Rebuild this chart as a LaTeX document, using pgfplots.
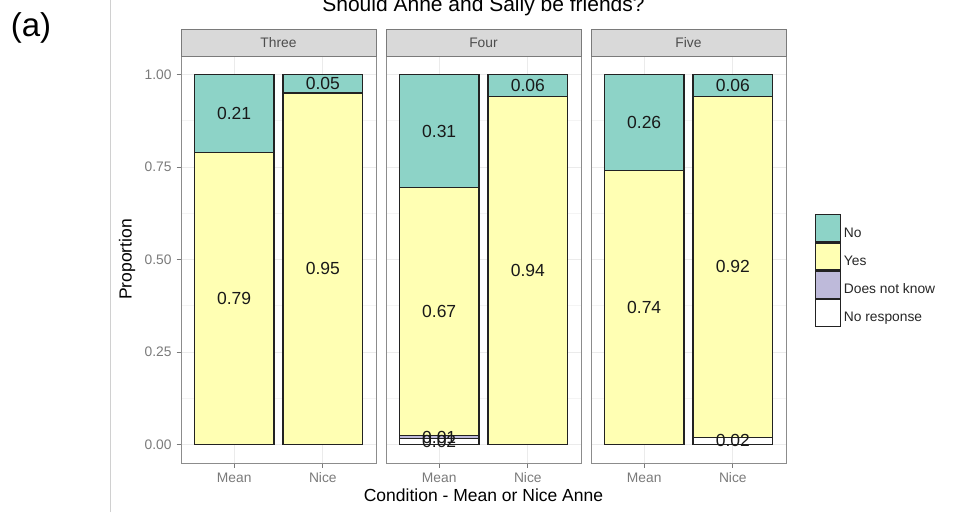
\documentclass[border=0pt]{standalone}
\usepackage{fontspec}
\setmainfont{Liberation Sans}
\usepackage{pgfplots}
\usepackage{pgfplotstable}
\pgfplotsset{compat=1.18}

\definecolor{colNo}{HTML}{8DD3C7}
\definecolor{colYes}{HTML}{FFFFB3}
\definecolor{colDNK}{HTML}{BEBADA}
\definecolor{colNR}{HTML}{FFFFFF}
\definecolor{barline}{HTML}{222222}
\definecolor{frame}{HTML}{8C8C8C}
\definecolor{stripfill}{HTML}{D9D9D9}
\definecolor{stripline}{HTML}{7A7A7A}
\definecolor{striptext}{HTML}{4D4D4D}
\definecolor{gridmaj}{HTML}{EBEBEB}
\definecolor{gridmin}{HTML}{F4F4F4}
\definecolor{tickcol}{HTML}{7A7A7A}
\definecolor{sepline}{HTML}{D0D0D0}

% Proportions per condition (x = 1: Mean, x = 2: Nice), stacked bottom to top
\pgfplotstableread{
x nr    dnk   yes  no
1 0     0     0.79 0.21
2 0     0     0.95 0.05
}\three
\pgfplotstableread{
x nr    dnk   yes  no
1 0.016 0.008 0.67 0.306
2 0     0     0.94 0.06
}\four
\pgfplotstableread{
x nr    dnk   yes  no
1 0     0     0.74 0.26
2 0.02  0     0.92 0.06
}\five

% Value labels, placed at the middle of each segment
\pgfplotstableread{
x y     lab
1 0.395 0.79
1 0.895 0.21
2 0.475 0.95
2 0.975 0.05
}\threelab
\pgfplotstableread{
x y     lab
1 0.008 0.02
1 0.020 0.01
1 0.359 0.67
1 0.847 0.31
2 0.470 0.94
2 0.970 0.06
}\fourlab
\pgfplotstableread{
x y     lab
1 0.370 0.74
1 0.870 0.26
2 0.010 0.02
2 0.480 0.92
2 0.970 0.06
}\fivelab

\tikzset{
  strip/.style={fill=stripfill, draw=stripline, line width=0.7pt},
  striptxt/.style={font=\fontsize{13.8}{16}\selectfont, text=striptext, anchor=center},
}

\pgfplotsset{
  facet/.style={
    scale only axis, width=195pt, height=407pt,
    anchor=south west,
    xmin=0.4, xmax=2.6, ymin=-0.05, ymax=1.05,
    clip=false,
    ybar stacked, bar width=0.9,
    axis line style={draw=frame, line width=0.7pt},
    xtick={1,2}, xticklabels={Mean,Nice},
    ytick={0,0.25,0.5,0.75,1},
    minor ytick={0.125,0.375,0.625,0.875},
    xmajorgrids, ymajorgrids, yminorgrids,
    major grid style={draw=gridmaj, line width=0.9pt},
    minor grid style={draw=gridmin, line width=0.6pt},
    tick align=outside, tick pos=left,
    major tick length=4.5pt, minor tick length=0pt,
    tick style={draw=tickcol, line width=0.7pt},
    ticklabel style={font=\fontsize{13.8}{16}\selectfont, text=tickcol},
    /pgf/number format/assume math mode=true,
    yticklabel style={/pgf/number format/.cd, fixed, fixed zerofill, precision=2, /tikz/.cd, xshift=-1.5pt},
    xticklabel style={anchor=base, yshift=-15pt},
  },
  seg/.style={draw=barline, line width=1.2pt, fill=#1},
  labellayer/.style={
    scale only axis, width=195pt, height=407pt,
    anchor=south west,
    xmin=0.4, xmax=2.6, ymin=-0.05, ymax=1.05,
    hide axis, clip=false,
  },
  vallab/.style={
    draw=none, mark=none,
    nodes near coords, point meta=explicit symbolic,
    nodes near coords align={center},
    every node near coord/.append style={font=\fontsize{17.5}{20}\selectfont, text=black!90, inner sep=0pt},
  },
}

% facet strip drawn above the panel
\newcommand{\facetstrip}[1]{%
  \draw[strip] (rel axis cs:0,1) rectangle ([yshift=27pt]rel axis cs:1,1);
  \path ([yshift=13.5pt]rel axis cs:0.5,1) node[striptxt] {#1};
}

\begin{document}
\begin{tikzpicture}
\path[use as bounding box] (0pt,0pt) rectangle (953pt,512pt);

\node[font=\fontsize{33}{36}\selectfont, anchor=center] at (31pt,484pt) {(a)};
\draw[sepline, line width=0.8pt] (110pt,0pt) -- (110pt,512pt);

% Panel: Three
\begin{axis}[facet, at={(181pt,49pt)},
  every axis y label/.style={at={(axis description cs:-0.277,0.5)}, rotate=90, anchor=center},
  ylabel={Proportion}, ylabel style={font=\fontsize{17.5}{20}\selectfont}]
  \addplot[seg=colNR]  table[x=x, y=nr]  {\three};
  \addplot[seg=colDNK] table[x=x, y=dnk] {\three};
  \addplot[seg=colYes] table[x=x, y=yes] {\three};
  \addplot[seg=colNo]  table[x=x, y=no]  {\three};
\end{axis}
\begin{axis}[labellayer, at={(181pt,49pt)}]
  \addplot[vallab] table[x=x, y=y, meta=lab] {\threelab};
  \facetstrip{Three}
\end{axis}

% Panel: Four
\begin{axis}[facet, at={(386pt,49pt)},
  yticklabels={}, ytick style={draw=none},
  title={Should Anne and Sally be friends?},
  title style={at={(axis description cs:0.5,1.0958)}, anchor=base, font=\fontsize{21}{24}\selectfont},
  xlabel={Condition - Mean or Nice Anne},
  every axis x label/.style={at={(axis description cs:0.5,-0.0934)}, anchor=base},
  xlabel style={font=\fontsize{17.5}{20}\selectfont}]
  \addplot[seg=colNR]  table[x=x, y=nr]  {\four};
  \addplot[seg=colDNK] table[x=x, y=dnk] {\four};
  \addplot[seg=colYes] table[x=x, y=yes] {\four};
  \addplot[seg=colNo]  table[x=x, y=no]  {\four};
\end{axis}
\begin{axis}[labellayer, at={(386pt,49pt)}]
  \addplot[vallab] table[x=x, y=y, meta=lab] {\fourlab};
  \facetstrip{Four}
\end{axis}

% Panel: Five, carrying the legend
\begin{axis}[facet, at={(591pt,49pt)},
  yticklabels={}, ytick style={draw=none},
  reverse legend,
  legend cell align=left,
  legend image code/.code={\draw[#1, line width=1.2pt] (0pt,-8.5pt) rectangle (25pt,18.5pt);},
  legend style={at={(axis description cs:1.1487,0.6118)}, anchor=north west,
    draw=none, fill=none, inner sep=0pt, row sep=0pt, column sep=0pt,
    font=\fontsize{13.8}{16}\selectfont, text=black!85,
    nodes={inner sep=2.5pt}}]
  \addplot[seg=colNR]  table[x=x, y=nr]  {\five};
  \addlegendentry{No response}
  \addplot[seg=colDNK] table[x=x, y=dnk] {\five};
  \addlegendentry{Does not know}
  \addplot[seg=colYes] table[x=x, y=yes] {\five};
  \addlegendentry{Yes}
  \addplot[seg=colNo]  table[x=x, y=no]  {\five};
  \addlegendentry{No}
\end{axis}
\begin{axis}[labellayer, at={(591pt,49pt)}]
  \addplot[vallab] table[x=x, y=y, meta=lab] {\fivelab};
  \facetstrip{Five}
\end{axis}
\end{tikzpicture}
\end{document}
